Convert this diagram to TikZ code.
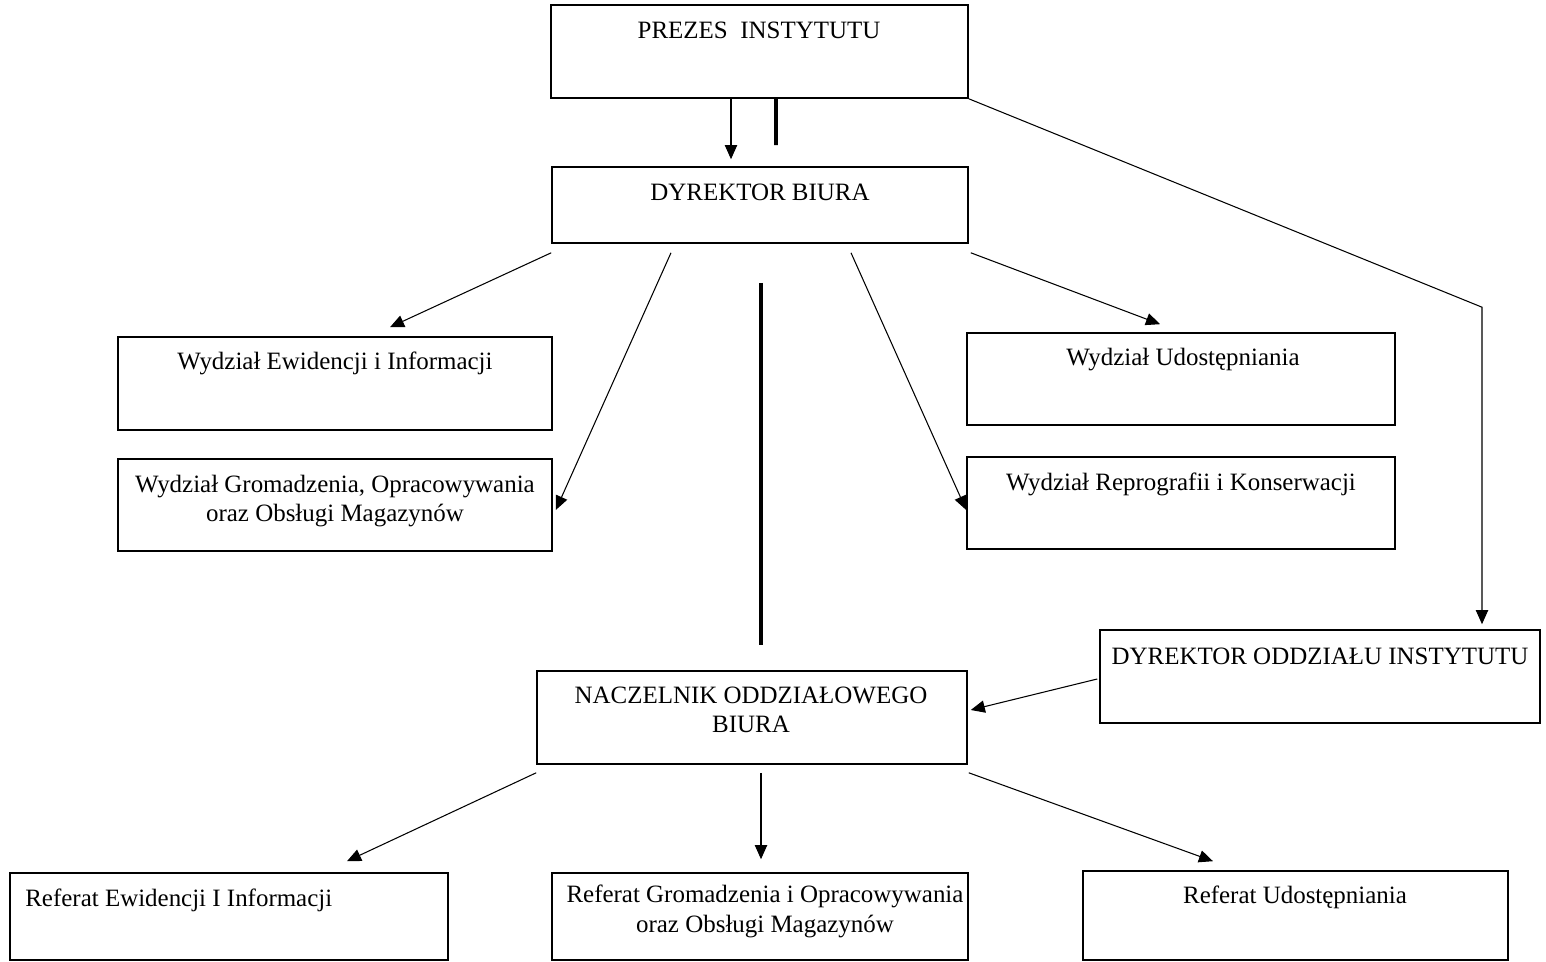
\documentclass[tikz,border=0pt]{standalone}
\usepackage{fontspec}
\setmainfont{Liberation Serif}
\usetikzlibrary{arrows.meta,calc,fit}
\begin{document}
\begin{tikzpicture}[x=0.02cm,y=-0.02cm,
  box/.style={draw, line width=0.9pt, inner sep=0pt},
  lbl/.style={inner sep=0pt, anchor=base, align=center,
    font=\fontsize{14.2}{17}\selectfont},
  conn/.style={line width=0.6pt, -{Triangle[length=8pt,width=7pt]}},
  heavy/.style={line width=2.2pt}]
\useasboundingbox (0,0) rectangle (1546,962);

% boxes
\node[box, fit={(551,5)(968,98)}]      (prezes) {};
\node[box, fit={(552,167)(968,243)}]   (db) {};
\node[box, fit={(118,337)(552,430)}]   (wewid) {};
\node[box, fit={(118,459)(552,551)}]   (wgrom) {};
\node[box, fit={(967,333)(1395,425)}]  (wudo) {};
\node[box, fit={(967,457)(1395,549)}]  (wrepro) {};
\node[box, fit={(1100,630)(1540,723)}] (doi) {};
\node[box, fit={(537,671)(967,764)}]   (nob) {};
\node[box, fit={(10,873)(448,960)}]    (rewid) {};
\node[box, fit={(552,873)(968,960)}]   (rgrom) {};
\node[box, fit={(1083,871)(1508,960)}] (rudo) {};

% labels (multi-line labels are placed by the baseline of their last line)
\node[lbl] (prezes-t) at (759,39)  {PREZES\ \ INSTYTUTU};
\node[lbl] (db-t)     at (760,201) {DYREKTOR BIURA};
\node[lbl] (wewid-t)  at (335,370) {Wydział Ewidencji i Informacji};
\node[lbl] (wgrom-t)  at (335,522) {Wydział Gromadzenia, Opracowywania\\oraz Obsługi Magazynów};
\node[lbl] (wudo-t)   at (1183,366) {Wydział Udostępniania};
\node[lbl] (wrepro-t) at (1181,491) {Wydział Reprografii i Konserwacji};
\node[lbl] (doi-t)    at (1320,665) {DYREKTOR ODDZIAŁU INSTYTUTU};
\node[lbl] (nob-t)    at (751,733) {NACZELNIK ODDZIAŁOWEGO\\BIURA};
\node[lbl, anchor=base west] (rewid-t) at (25,906) {Referat Ewidencji I Informacji};
\node[lbl] (rgrom-t)  at (765,932) {Referat Gromadzenia i Opracowywania\\oraz Obsługi Magazynów};
\node[lbl] (rudo-t)   at (1295,903) {Referat Udostępniania};

% connectors
\draw[conn] ($(prezes.south)+(-28.5,0)$) -- ($(db.north)+(-29,-7)$);
\draw[heavy] ($(prezes.south)+(16.5,0)$) -- ($(db.north)+(16,-21)$);
\draw[conn] (prezes.south east) -- ($(doi.north)+(162,-322)$) -- ($(doi.north)+(162,-5)$);

\draw[conn] ($(db.south west)+(0,9)$) -- ($(wewid.north)+(55,-9)$);
\draw[conn] ($(db.south)+(-89,9)$) -- ($(wgrom.east)+(3,5)$);
\draw[heavy] ($(db.south)+(1,39)$) -- ($(nob.north)+(9,-25)$);
\draw[conn] ($(db.south)+(91,9)$) -- ($(wrepro.west)+(0,7)$);
\draw[conn] ($(db.south east)+(2,9)$) -- ($(wudo.north)+(-21,-8)$);

\draw[conn] ($(doi.west)+(-2,2.5)$) -- ($(nob.east)+(3,-7.5)$);

\draw[conn] ($(nob.south west)+(0,8)$) -- ($(rewid.north)+(118,-11)$);
\draw[conn] ($(nob.south)+(9,8)$) -- ($(rgrom.north)+(1,-13)$);
\draw[conn] ($(nob.south east)+(1,8)$) -- ($(rudo.north)+(-82.5,-9)$);
\end{tikzpicture}
\end{document}
